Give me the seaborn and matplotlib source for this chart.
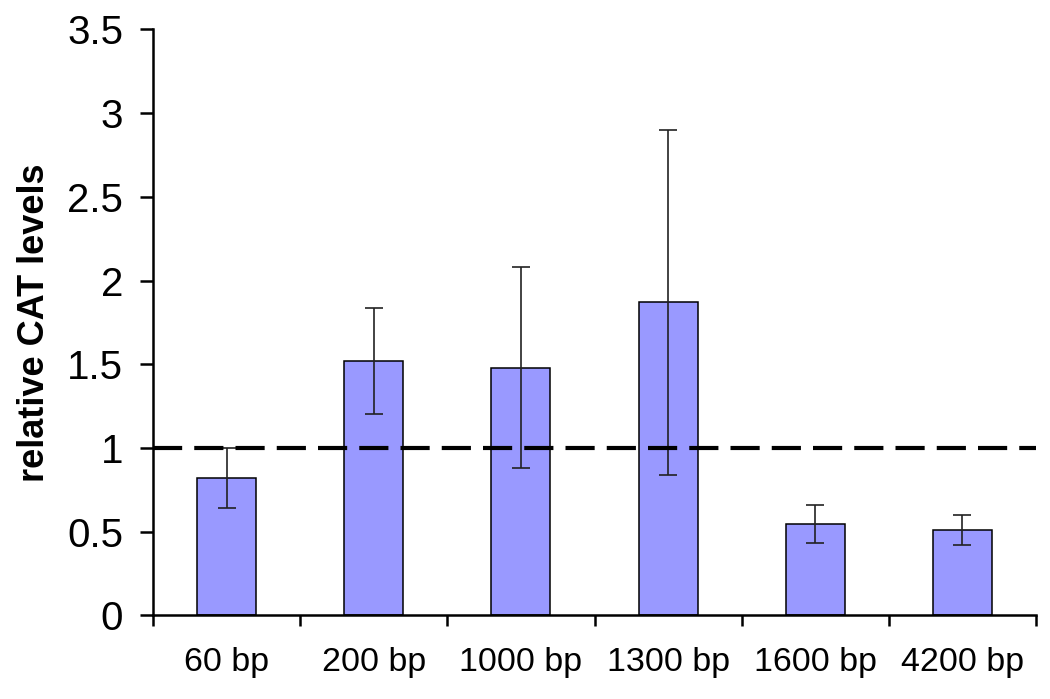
import matplotlib
matplotlib.use("Agg")
import matplotlib.pyplot as plt
import numpy as np
import pandas as pd
import seaborn as sns
from matplotlib.ticker import FixedLocator

# values
fragments = ["60 bp", "200 bp", "1000 bp", "1300 bp", "1600 bp", "4200 bp"]
cat_levels = [0.82, 1.52, 1.48, 1.87, 0.545, 0.51]
cat_err = [0.18, 0.315, 0.60, 1.03, 0.113, 0.088]
baseline = 1.0
y_ticks = [0, 0.5, 1, 1.5, 2, 2.5, 3, 3.5]
y_ticklabels = ["0", "0.5", "1", "1.5", "2", "2.5", "3", "3.5"]

sns.set_style("white")
plt.rcParams["font.family"] = ["Liberation Sans", "DejaVu Sans"]
plt.rcParams["text.color"] = "black"
plt.rcParams["axes.labelcolor"] = "black"
plt.rcParams["xtick.color"] = "black"
plt.rcParams["ytick.color"] = "black"

df = pd.DataFrame({"fragment": fragments, "level": cat_levels, "err": cat_err})

fig = plt.figure(figsize=(10.5, 6.99), dpi=100)
ax = fig.add_axes([0.1457, 0.1195, 0.841, 0.8385])

sns.barplot(
    data=df,
    x="fragment",
    y="level",
    color="#9999FF",
    saturation=1,
    width=0.4,
    edgecolor="black",
    linewidth=1.1,
    errorbar=None,
    ax=ax,
    zorder=2,
)
ax.errorbar(
    np.arange(len(fragments)),
    df["level"],
    yerr=df["err"],
    fmt="none",
    ecolor="#222222",
    elinewidth=1.2,
    capsize=6.5,
    capthick=1.2,
    zorder=3,
)
ax.axhline(baseline, color="black", lw=3, linestyle=(0, (7, 2.9)), zorder=4)

ax.set_xlim(-0.5, len(fragments) - 0.5)
ax.set_ylim(0, 3.5)
ax.set_yticks(y_ticks)
ax.set_yticklabels(y_ticklabels, fontsize=29)
ax.set_xticks(np.arange(len(fragments)))
ax.set_xticklabels(fragments, fontsize=24.5)
ax.xaxis.set_minor_locator(FixedLocator(np.arange(-0.5, len(fragments), 1.0)))
ax.tick_params(axis="x", which="major", length=0, pad=23, colors="black")
ax.tick_params(axis="x", which="minor", bottom=True, length=8, width=1.8,
               direction="out", color="black")
ax.tick_params(axis="y", length=9.5, width=1.8, direction="out", colors="black",
               pad=12, left=True)
ax.set_xlabel("")
ax.set_ylabel("relative CAT levels", fontsize=26, fontweight="bold", labelpad=11,
              color="black")

for side in ["top", "right"]:
    ax.spines[side].set_visible(False)
for side in ["left", "bottom"]:
    ax.spines[side].set_color("black")
    ax.spines[side].set_linewidth(1.8)

fig.savefig("out.png", dpi=100)
